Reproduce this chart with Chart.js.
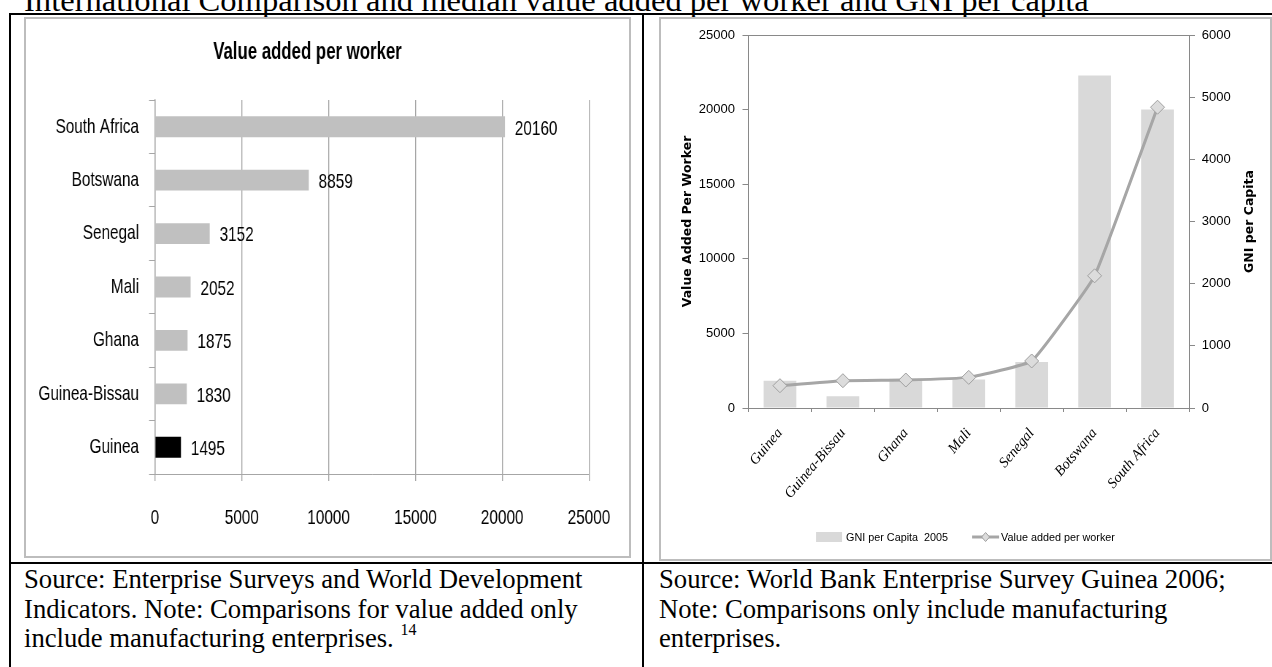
<!DOCTYPE html>
<html><head><meta charset="utf-8">
<script src="https://cdn.jsdelivr.net/npm/chart.js@4.4.1/dist/chart.umd.min.js"></script>
<style>
html,body{margin:0;padding:0;background:#fff;}
body{width:1272px;height:667px;overflow:hidden;position:relative;}
.abs{position:absolute;}
.serif{font-family:'Liberation Serif','Times New Roman',serif;color:#000;}
.hline{position:absolute;background:#000;height:2px;}
.vline{position:absolute;background:#000;width:2px;}
.frame{position:absolute;box-sizing:border-box;border:2px solid #BDBDBD;}
#leftWrap{transform:scaleX(0.73);transform-origin:0 0;}
</style></head><body>
<div class="abs serif" style="left:24px;top:-18px;font-size:32.6px;line-height:36px;white-space:nowrap;">International Comparison and median value added per worker and GNI per capita</div>
<div class="hline" style="left:9px;top:13px;width:1263px;"></div>
<div class="hline" style="left:9px;top:562px;width:1263px;"></div>
<div class="vline" style="left:9px;top:13px;height:654px;"></div>
<div class="vline" style="left:642px;top:13px;height:654px;"></div>
<div class="frame" style="left:24px;top:17px;width:607px;height:541px;"></div>
<div class="frame" style="left:659px;top:17px;width:613px;height:544px;"></div>
<div class="abs" id="leftWrap" style="left:26px;top:19px;width:826px;height:537px;"><canvas id="c1"></canvas></div>
<div class="abs" style="left:661px;top:19px;width:609px;height:540px;"><canvas id="c2"></canvas></div>
<div class="abs serif" style="left:24px;top:565.4px;font-size:26.7px;line-height:29.5px;white-space:nowrap;">Source: Enterprise Surveys and World Development<br>Indicators. Note: Comparisons for value added only<br>include manufacturing enterprises. <span style="font-size:16px;position:relative;top:-12px;">14</span></div>
<div class="abs serif" style="left:659px;top:565.4px;font-size:26.7px;line-height:29.5px;white-space:nowrap;">Source: World Bank Enterprise Survey Guinea 2006;<br>Note: Comparisons only include manufacturing<br>enterprises.</div>
<script>
// ---- data ----
const countriesLeft = ['South Africa','Botswana','Senegal','Mali','Ghana','Guinea-Bissau','Guinea'];
const valueAddedLeft = [20160, 8859, 3152, 2052, 1875, 1830, 1495];
const xTickLabelsLeft = ['0','5000','10000','15000','20000','25000'];

const countriesRight = ['Guinea','Guinea-Bissau','Ghana','Mali','Senegal','Botswana','South Africa'];
const gniPerCapita = [440, 190, 470, 460, 740, 5350, 4800];
const valueAddedRight = [1495, 1830, 1875, 2052, 3152, 8859, 20160];
const yTickLabelsRight = ['0','5000','10000','15000','20000','25000'];
const y1TickLabelsRight = ['0','1000','2000','3000','4000','5000','6000'];

// ---- styles ----
const sans = "'Liberation Sans',Arial,sans-serif";
const serif = "'Liberation Serif','Times New Roman',serif";
const boldSans = "'DejaVu Sans',Verdana,sans-serif";
Chart.defaults.font.family = sans;
Chart.defaults.color = '#000';

const valueLabels = {
  id: 'valueLabels',
  afterDatasetsDraw(chart) {
    const ctx = chart.ctx, meta = chart.getDatasetMeta(0), ds = chart.data.datasets[0];
    ctx.save();
    ctx.font = '21px ' + sans;
    ctx.fillStyle = '#000';
    ctx.textAlign = 'left';
    ctx.textBaseline = 'middle';
    meta.data.forEach((bar, i) => ctx.fillText(String(ds.data[i]), bar.x + 13.5, bar.y + 2));
    ctx.restore();
  }
};

new Chart(document.getElementById('c1'), {
  type: 'bar',
  data: {
    labels: countriesLeft,
    datasets: [{
      data: valueAddedLeft,
      backgroundColor: c => countriesLeft[c.dataIndex] === 'Guinea' ? '#000000' : '#C0C0C0',
      categoryPercentage: 1, barPercentage: 0.39
    }]
  },
  options: {
    indexAxis: 'y', responsive: true, maintainAspectRatio: false, animation: false,
    layout: {padding: {left: 0, right: 54.8, top: 0, bottom: 0}},
    plugins: {
      legend: {display: false}, tooltip: {enabled: false},
      title: {display: true, text: 'Value added per worker', color: '#000',
        font: {family: sans, size: 23, weight: 'bold'}, padding: {top: 20.2, bottom: 33.2}}
    },
    scales: {
      x: {
        min: 0, max: 25000,
        ticks: {stepSize: 5000, callback: (v, i) => xTickLabelsLeft[i], font: {family: sans, size: 21}, color: '#000', padding: 24.4, maxRotation: 0},
        grid: {color: '#A6A6A6', tickLength: 7, lineWidth: 1.37},
        border: {color: '#A6A6A6'},
        afterFit: s => { s.height = 82; }
      },
      y: {
        ticks: {font: {family: sans, size: 21}, color: '#000', padding: 13.7},
        grid: {drawOnChartArea: false, color: '#A6A6A6', tickLength: 8.2, offset: true},
        border: {color: '#A6A6A6', width: 1.37},
        afterFit: s => { s.width = 176.7; }
      }
    }
  },
  plugins: [valueLabels]
});

const rightDecor = {
  id: 'rightDecor',
  afterDraw(chart) {
    const ctx = chart.ctx, a = chart.chartArea, s = chart.scales.y1;
    ctx.save();
    ctx.strokeStyle = '#898989'; ctx.lineWidth = 1;
    ctx.beginPath(); ctx.moveTo(a.left, a.top + 0.5); ctx.lineTo(a.right, a.top + 0.5); ctx.stroke();
    ctx.translate(s.right - 20, (s.top + s.bottom) / 2);
    ctx.rotate(-Math.PI / 2);
    ctx.font = 'bold 12.5px ' + boldSans;
    ctx.fillStyle = '#000'; ctx.textAlign = 'center'; ctx.textBaseline = 'middle';
    ctx.fillText('GNI per Capita', 0, 0);
    ctx.restore();
    const bar = chart.data.datasets[1], line = chart.data.datasets[0];
    ctx.save();
    ctx.font = '10.8px ' + sans;
    const w1 = ctx.measureText(bar.label).width, w2 = ctx.measureText(line.label).width;
    const total = 26 + 4 + w1 + 24 + 27 + 2 + w2;
    let x = (chart.width - total) / 2; const y = 518;
    ctx.fillStyle = bar.backgroundColor; ctx.fillRect(x, y - 5, 26, 10);
    x += 30;
    ctx.fillStyle = '#000'; ctx.textBaseline = 'middle'; ctx.textAlign = 'left';
    ctx.fillText(bar.label, x, y + 1);
    x += w1 + 24;
    ctx.strokeStyle = line.borderColor; ctx.lineWidth = 3;
    ctx.beginPath(); ctx.moveTo(x, y); ctx.lineTo(x + 27, y); ctx.stroke();
    const cx = x + 13.5;
    ctx.beginPath(); ctx.moveTo(cx, y - 4.5); ctx.lineTo(cx + 4, y); ctx.lineTo(cx, y + 4.5); ctx.lineTo(cx - 4, y); ctx.closePath();
    ctx.fillStyle = line.pointBackgroundColor; ctx.fill();
    ctx.lineWidth = 1; ctx.strokeStyle = line.pointBorderColor; ctx.stroke();
    x += 29;
    ctx.fillStyle = '#000';
    ctx.fillText(line.label, x, y + 1);
    ctx.restore();
  }
};

new Chart(document.getElementById('c2'), {
  type: 'bar',
  data: {
    labels: countriesRight,
    datasets: [
      {type: 'line', label: 'Value added per worker', data: valueAddedRight, yAxisID: 'y', order: 0,
        borderColor: '#A6A6A6', borderWidth: 3, tension: 0.1,
        pointStyle: 'rectRot', pointRadius: 7, pointBackgroundColor: '#DCDCDC', pointBorderColor: '#A0A0A0', pointBorderWidth: 1},
      {type: 'bar', label: 'GNI per Capita  2005', data: gniPerCapita, yAxisID: 'y1', order: 1,
        backgroundColor: '#D9D9D9', categoryPercentage: 1, barPercentage: 0.52}
    ]
  },
  options: {
    responsive: true, maintainAspectRatio: false, animation: false,
    layout: {padding: {left: 0, right: 0, top: 16, bottom: 0}},
    plugins: {legend: {display: false}, tooltip: {enabled: false}},
    scales: {
      x: {
        ticks: {font: {family: serif, size: 14.5, style: 'italic'}, color: '#000', minRotation: 50, maxRotation: 50, padding: 13},
        grid: {drawOnChartArea: false, color: '#898989', tickLength: 4, offset: true},
        border: {color: '#898989'},
        afterFit: s => { s.height = 151; }
      },
      y: {
        position: 'left', min: 0, max: 25000,
        ticks: {stepSize: 5000, callback: (v, i) => yTickLabelsRight[i], font: {family: sans, size: 13}, color: '#000', padding: 7.5},
        grid: {drawOnChartArea: false, color: '#898989', tickLength: 6},
        border: {color: '#898989'},
        title: {display: true, text: 'Value Added Per Worker', color: '#000', font: {family: boldSans, size: 12.5, weight: 'bold'}, padding: {top: 19.2, bottom: 0}},
        afterFit: s => { s.width = 87.5; }
      },
      y1: {
        position: 'right', min: 0, max: 6000,
        ticks: {stepSize: 1000, callback: (v, i) => y1TickLabelsRight[i], font: {family: sans, size: 13}, color: '#000', padding: 6.7},
        grid: {drawOnChartArea: false, color: '#898989', tickLength: 6},
        border: {color: '#898989'},
        afterFit: s => { s.width = 81; }
      }
    }
  },
  plugins: [rightDecor]
});
</script>
</body></html>
